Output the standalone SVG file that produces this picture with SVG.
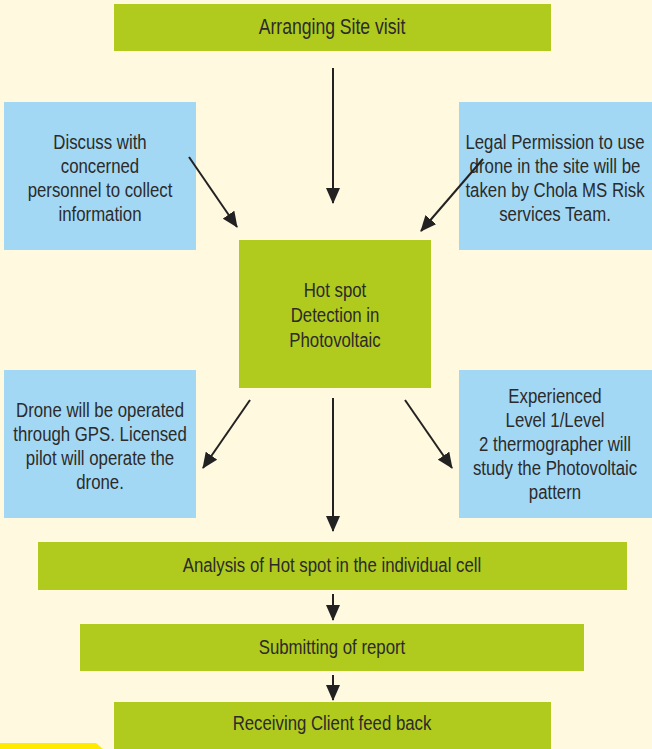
<svg xmlns="http://www.w3.org/2000/svg" width="652" height="749" viewBox="0 0 652 749">
<defs>
<style>
.g{fill:#B1CA1E}
.b{fill:#A3D8F4}
text{font-family:"Liberation Sans",Arial,sans-serif;font-size:21px;fill:#2B2B2B;text-anchor:middle}
.t text{font-size:22px}
.c line{stroke:#222;stroke-width:2;marker-end:url(#ah)}
</style>
<marker id="ah" markerUnits="userSpaceOnUse" markerWidth="16" markerHeight="14" refX="15" refY="7" orient="auto" viewBox="0 0 16 14">
<path d="M0,0 L16,7 L0,14 Z" fill="#222"/>
</marker>
</defs>
<rect width="652" height="749" fill="#FEF9DF"/>
<g id="site-visit"><rect class="g" x="114" y="4" width="437" height="47"/><g class="t" transform="translate(332 0) scale(0.8 1)"><text x="0" y="34">Arranging Site visit</text></g></g>
<g id="discuss"><rect class="b" x="4" y="102" width="192" height="148"/><g transform="translate(100 0) scale(0.8 1)"><text x="0" y="149">Discuss with</text><text x="0" y="173">concerned</text><text x="0" y="197">personnel to collect</text><text x="0" y="221">information</text></g></g>
<g id="legal"><rect class="b" x="459" y="102" width="193" height="148"/><g transform="translate(555 0) scale(0.8 1)"><text x="0" y="149">Legal Permission to use</text><text x="0" y="173">drone in the site will be</text><text x="0" y="197">taken by Chola MS Risk</text><text x="0" y="221">services Team.</text></g></g>
<g id="hotspot"><rect class="g" x="239" y="240" width="192" height="148"/><g transform="translate(335 0) scale(0.8 1)"><text x="0" y="297">Hot spot</text><text x="0" y="322">Detection in</text><text x="0" y="347">Photovoltaic</text></g></g>
<g id="drone"><rect class="b" x="4" y="370" width="192" height="148"/><g transform="translate(100 0) scale(0.8 1)"><text x="0" y="417">Drone will be operated</text><text x="0" y="441">through GPS. Licensed</text><text x="0" y="465">pilot will operate the</text><text x="0" y="489">drone.</text></g></g>
<g id="thermographer"><rect class="b" x="459" y="370" width="193" height="148"/><g transform="translate(555 0) scale(0.8 1)"><text x="0" y="403">Experienced</text><text x="0" y="427">Level 1/Level</text><text x="0" y="451">2 thermographer will</text><text x="0" y="475">study the Photovoltaic</text><text x="0" y="499">pattern</text></g></g>
<g id="analysis"><rect class="g" x="38" y="542" width="589" height="48"/><g transform="translate(332 0) scale(0.8 1)"><text x="0" y="572">Analysis of Hot spot in the individual cell</text></g></g>
<g id="submitting"><rect class="g" x="80" y="624" width="504" height="47"/><g transform="translate(332 0) scale(0.8 1)"><text x="0" y="654">Submitting of report</text></g></g>
<g id="receiving"><rect class="g" x="114" y="702" width="437" height="47"/><g transform="translate(332 0) scale(0.8 1)"><text x="0" y="730">Receiving Client feed back</text></g></g>
<path d="M0,743 L96,743 L103,749 L0,749 Z" fill="#FFEA00"/>
<g class="c" id="connectors">
<line x1="333" y1="68" x2="333" y2="203"/>
<line x1="189" y1="157" x2="237" y2="227"/>
<line x1="483" y1="159" x2="421" y2="231"/>
<line x1="250" y1="400" x2="203" y2="468"/>
<line x1="405" y1="400" x2="452" y2="468"/>
<line x1="333" y1="398" x2="333" y2="531"/>
<line x1="333" y1="594" x2="333" y2="620"/>
<line x1="333" y1="675" x2="333" y2="700"/>
</g>
</svg>
